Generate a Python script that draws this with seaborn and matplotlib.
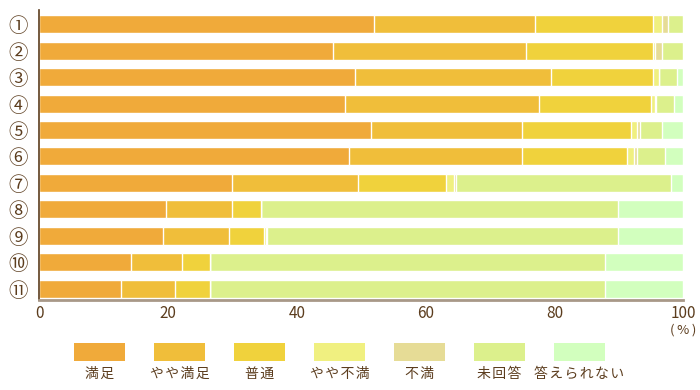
import matplotlib
matplotlib.use("Agg")
import matplotlib.pyplot as plt
import numpy as np
import pandas as pd
import seaborn as sns
from matplotlib.patches import Rectangle

# rows (top to bottom) and answer categories
items = ['①', '②', '③', '④', '⑤', '⑥', '⑦', '⑧', '⑨', '⑩', '⑪']
categories = ['満足', 'やや満足', '普通', 'やや不満', '不満', '未回答', '答えられない']
colors = ['#f0aa3a', '#f0be3a', '#f0d23c', '#f0f080', '#e6dc96', '#dcf08c', '#d2ffbe']

# percentages per category
manzoku = [52.0, 45.6, 49.0, 47.5, 51.5, 48.0, 29.9, 19.6, 19.2, 14.2, 12.7]
yaya_manzoku = [25.0, 29.9, 30.4, 30.0, 23.5, 27.0, 19.6, 10.3, 10.3, 7.9, 8.3]
futsu = [18.2, 19.7, 15.8, 17.5, 16.8, 16.3, 13.7, 4.5, 5.3, 4.4, 5.5]
yaya_fuman = [1.5, 0.4, 1.0, 0.5, 1.0, 1.0, 1.1, 0.0, 0.4, 0.0, 0.0]
fuman = [0.9, 1.1, 0.0, 0.3, 0.4, 0.5, 0.4, 0.0, 0.2, 0.0, 0.0]
mikaito = [2.4, 3.3, 2.8, 2.7, 3.5, 4.4, 33.4, 55.4, 54.4, 61.3, 61.3]
kotaerarenai = [0.0, 0.0, 1.0, 1.5, 3.3, 2.8, 1.9, 10.2, 10.2, 12.2, 12.2]

xticks = [0, 20, 40, 60, 80, 100]

brown = '#5c3d1e'
axis_gray = '#a89888'

sns.set_style('white')
plt.rcParams['font.family'] = ['Noto Sans CJK JP', 'DejaVu Sans']

df = pd.DataFrame({
    'item': items,
    categories[0]: manzoku,
    categories[1]: yaya_manzoku,
    categories[2]: futsu,
    categories[3]: yaya_fuman,
    categories[4]: fuman,
    categories[5]: mikaito,
    categories[6]: kotaerarenai,
})
cum = df[categories].cumsum(axis=1)
cum['item'] = df['item']

fig = plt.figure(figsize=(7, 3.9), dpi=100)
ax = fig.add_axes([0.0564, 0.231, 0.92, 0.743])

# stacked bars: draw cumulative totals from the longest to the shortest
for cat, col in reversed(list(zip(categories, colors))):
    sns.barplot(data=cum, x=cat, y='item', color=col, saturation=1, width=0.68,
                edgecolor='white', linewidth=1, ax=ax, orient='h')

ax.set_xlim(0, 100)
ax.set_ylim(10.42, -0.53)
ax.set_xticks(xticks)
ax.set_xlabel('')
ax.set_ylabel('')

for s in ['top', 'right']:
    ax.spines[s].set_visible(False)
ax.spines['left'].set_color(brown)
ax.spines['left'].set_linewidth(1.2)
ax.spines['bottom'].set_color(axis_gray)
ax.spines['bottom'].set_linewidth(2)

ax.tick_params(axis='x', direction='in', length=3, width=1, color=axis_gray,
               labelsize=11, labelcolor=brown, pad=4)
ax.tick_params(axis='y', length=0, labelsize=14, labelcolor=brown, pad=8)

fig.text(683 / 700, 1 - 330 / 390, '(\u2009%\u2009)', ha='center', va='center',
         fontsize=9.5, color=brown)

# legend: swatches with labels underneath
for i, (cat, col) in enumerate(zip(categories, colors)):
    x0 = 74 + 80 * i
    fig.patches.append(Rectangle((x0 / 700, 1 - 360.7 / 390), 51 / 700, 17.5 / 390,
                                 transform=fig.transFigure, facecolor=col,
                                 edgecolor='none'))
    fig.text((x0 + 25.5) / 700, 1 - 374 / 390, '\u200a'.join(cat), ha='center',
             va='center', fontsize=10, color=brown)

fig.savefig('out.png', dpi=100)
